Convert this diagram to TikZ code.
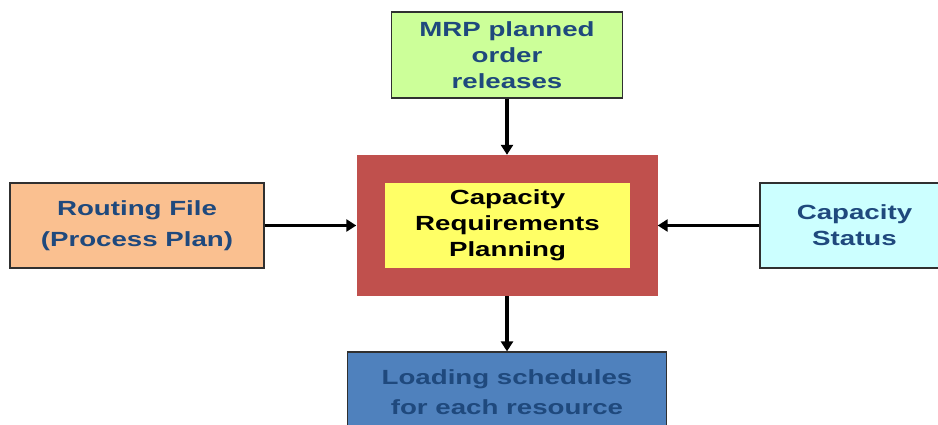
\documentclass[tikz,border=0pt]{standalone}
\usepackage{fontspec}
\setmainfont{Liberation Sans}
\newfontfamily\boxfont{Liberation Sans}[FakeStretch=1.35]
\usetikzlibrary{arrows.meta}
\definecolor{mrpgreen}{HTML}{CCFF99}
\definecolor{crpred}{HTML}{C0504D}
\definecolor{crpyellow}{HTML}{FFFF66}
\definecolor{routepeach}{HTML}{FAC090}
\definecolor{statuscyan}{HTML}{CCFFFF}
\definecolor{loadblue}{HTML}{4F81BD}
\definecolor{labelblue}{HTML}{1F497D}
\definecolor{edgegray}{HTML}{303030}
\tikzset{
  box/.style={rectangle, inner sep=0pt, align=center, draw=edgegray, line width=1.2pt,
    font=\boxfont\bfseries\fontsize{20.5}{26}\selectfont, text=labelblue},
  flow/.style={-{Triangle[length=10pt,width=12pt]}, line width=3.4pt, black}
}
\begin{document}
\begin{tikzpicture}[x=1pt,y=-1pt]
\useasboundingbox (0,0) rectangle (938,425);
\clip (0,0) rectangle (938,425);
\fill[white] (0,0) rectangle (938,425);
% central planning block: red frame with yellow core
\node[rectangle, fill=crpred, minimum width=301pt, minimum height=141pt] (crp) at (507,225.5) {};
\node[box, draw=none, fill=crpyellow, text=black, minimum width=245pt, minimum height=85pt] (core) at (507.5,225.5)
  {Capacity\\Requirements\\Planning};
% inputs and output
\node[box, fill=mrpgreen, minimum width=231pt, minimum height=86pt] (mrp) at (507,55)
  {MRP planned\\order\\releases};
\node[box, fill=routepeach, minimum width=254pt, minimum height=85pt] (route) at (137,225.5)
  {Routing File\\[5pt](Process Plan)};
\node[box, fill=statuscyan, minimum width=189pt, minimum height=85pt] (status) at (854.5,225.5)
  {Capacity\\Status};
\node[box, fill=loadblue, minimum width=319pt, minimum height=80pt] (load) at (507,392)
  {Loading schedules\\[4pt]for each resource};
% connectors
\draw[flow] (mrp.south) -- (crp.north);
\draw[flow] (route.east) -- (crp.west);
\draw[flow] (status.west) -- (crp.east);
\draw[flow] (crp.south) -- (load.north);
\end{tikzpicture}
\end{document}
